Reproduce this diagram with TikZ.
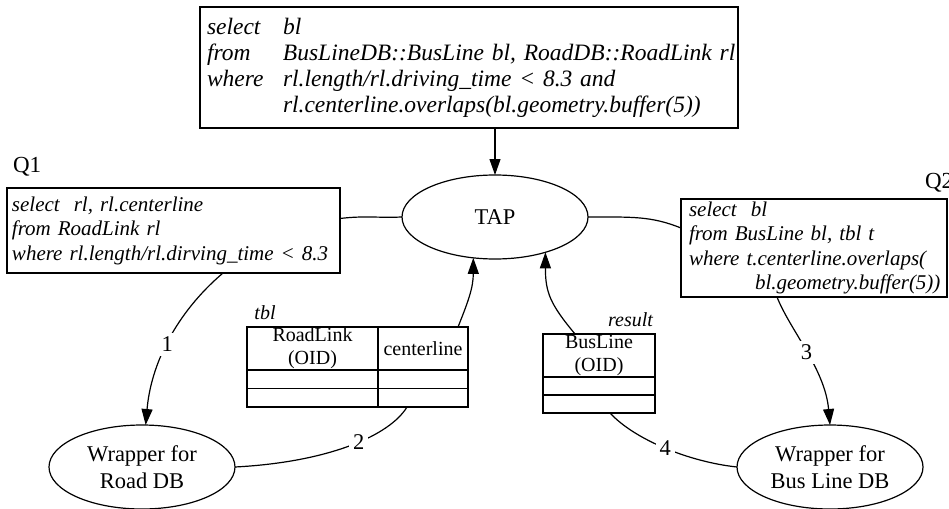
\documentclass[tikz,border=0pt]{standalone}
\usepackage{fontspec}
\setmainfont{Liberation Serif}
\usetikzlibrary{arrows.meta,shapes.geometric}
\begin{document}
\begin{tikzpicture}[x=1pt,y=-1pt,
  every node/.style={inner sep=0pt, outer sep=0pt},
  qbox/.style={draw, line width=1.2pt, rectangle, align=left, font=\fontsize{21}{24.5}\selectfont\itshape},
  oval/.style={draw, line width=1.2pt, ellipse, minimum width=186pt, minimum height=84pt, align=center, font=\fontsize{22.5}{27}\selectfont},
  cell/.style={draw, line width=1.2pt, rectangle, align=center, font=\fontsize{20}{23}\selectfont},
  lbl/.style={font=\fontsize{23}{27}\selectfont},
  ilbl/.style={font=\fontsize{20}{24}\selectfont\itshape},
  elbl/.style={font=\fontsize{22.5}{27}\selectfont, fill=white, inner sep=4pt},
  link/.style={line width=1.2pt},
  arr/.style={line width=1.2pt, -{Triangle[length=16pt,width=11pt]}},
]
\useasboundingbox (0,0) rectangle (949,508);

% query boxes
\node[qbox, minimum width=538pt, minimum height=121pt, text width=524pt, inner xsep=7pt,
      font=\fontsize{23.5}{26}\selectfont\itshape] (top) at (469,67.5)
  {\makebox[76pt][l]{select}bl\\
   \mbox{\makebox[76pt][l]{from}BusLineDB::BusLine bl, RoadDB::RoadLink rl}\\
   \makebox[76pt][l]{where}rl.length/rl.driving\_time < 8.3 and\\
   \mbox{\hspace*{76pt}rl.centerline.overlaps(bl.geometry.buffer(5))}};

\node[qbox, minimum width=333pt, minimum height=85pt, text width=323pt, inner xsep=5pt] (q1) at (173.5,230.5)
  {select\ \ rl, rl.centerline\\
   from RoadLink rl\\
   where rl.length/rl.dirving\_time < 8.3};

\node[qbox, minimum width=266pt, minimum height=98pt, text width=250pt, inner xsep=8pt] (q2) at (814,248)
  {select\ \ bl\\
   from BusLine bl, tbl t\\
   where t.centerline.overlaps(\\
   \hspace*{66pt}bl.geometry.buffer(5))};

\node[lbl, anchor=west] (q1lbl) at (13,167) {Q1};
\node[lbl, anchor=west] (q2lbl) at (925,183) {Q2};

% ellipses
\node[oval] (tap) at (495,217) {TAP};
\node[oval] (rdb) at (142,467) {Wrapper for\\Road DB};
\node[oval] (bdb) at (830,467) {Wrapper for\\Bus Line DB};

% tbl table
\node[ilbl] (tbllbl) at (265,313) {tbl};
\node[cell, minimum width=131pt, minimum height=43pt] (rlh1) at (312.5,348.5) {RoadLink\\(OID)};
\node[cell, minimum width=90pt, minimum height=43pt] (rlh2) at (423,348.5) {centerline};
\node[cell, minimum width=131pt, minimum height=18.5pt] (rl11) at (312.5,379.25) {};
\node[cell, minimum width=90pt, minimum height=18.5pt] (rl12) at (423,379.25) {};
\node[cell, minimum width=131pt, minimum height=18.5pt] (rl21) at (312.5,397.75) {};
\node[cell, minimum width=90pt, minimum height=18.5pt] (rl22) at (423,397.75) {};

% result table
\node[ilbl, anchor=east] (reslbl) at (653,320) {result};
\node[cell, minimum width=112pt, minimum height=43pt] (blh) at (599,355.5) {BusLine\\(OID)};
\node[cell, minimum width=112pt, minimum height=18pt] (bl1) at (599,386) {};
\node[cell, minimum width=112pt, minimum height=18pt] (bl2) at (599,404) {};

% connectors
\draw[arr] (top.south -| tap.north) -- (tap.north);
\draw[link] ([yshift=12pt]q1.east) .. controls +(25,-3) and +(-25,1) .. (tap.west);
\draw[link] (tap.east) .. controls +(45,0) and +(-30,-12) .. ([yshift=20pt]q2.west);

\draw[arr] ([xshift=49.5pt]q1.south) .. controls (176,313) and (151,364) .. (rdb.85)
  node[elbl, pos=0.52] (e1) {1};
\draw[link] ([xshift=-16pt]rl22.south) .. controls +(-17,28) and +(95,-5) .. (rdb.east)
  node[elbl, pos=0.45] (e2) {2};
\draw[arr] ([xshift=-37pt]q2.south) .. controls +(13,33) and +(-5,-56) .. (bdb.north)
  node[elbl, pos=0.5] (e3) {3};
\draw[link] ([xshift=11pt]bl2.south) .. controls +(25,27) and +(-47,-5) .. (bdb.west)
  node[elbl, pos=0.5] (e4) {4};

\draw[arr] ([xshift=35pt]rlh2.north) .. controls +(10,-25) and +(0,30) .. (tap.242);
\draw[arr] ([xshift=-24pt]blh.north) .. controls +(-25,-30) and +(0,40) .. (tap.325);
\end{tikzpicture}
\end{document}
